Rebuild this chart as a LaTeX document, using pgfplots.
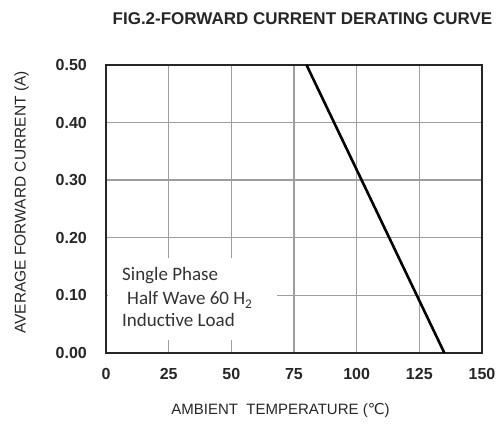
\documentclass[border=0pt]{standalone}
\usepackage{pgfplots}
\pgfplotsset{compat=1.18}
\usepackage{fontspec}
\setmainfont{Liberation Sans}
\newfontfamily\carlito{Carlito}
\newfontfamily\dejavu{DejaVu Sans}
\begin{document}
\begin{tikzpicture}
\begin{axis}[
  name=ax, at={(0,0)}, anchor=south west,
  scale only axis, width=376bp, height=288bp,
  xmin=0, xmax=150, ymin=0, ymax=0.5,
  xtick={0,25,50,75,100,125,150},
  ytick={0,0.1,0.2,0.3,0.4,0.5},
  /pgf/number format/assume math mode=true,
  major tick length=0pt,
  tick label style={font=\fontsize{16bp}{18bp}\selectfont\bfseries, inner sep=0pt, text=black!85},
  yticklabel style={anchor=east, xshift=-19bp, /pgf/number format/fixed, /pgf/number format/fixed zerofill, /pgf/number format/precision=2},
  xticklabel style={anchor=north, yshift=-15bp},
  grid=major,
  major grid style={draw=black!38, line width=1.4bp},
  axis line style={draw=black!85, line width=2bp},
  clip=false,
]
\addplot[black, line width=2.6bp] coordinates {(80,0.5) (135,0)};
\end{axis}
% white background behind the note
\fill[white] ([shift={(2bp,13bp)}]ax.south west) rectangle ([shift={(171bp,95bp)}]ax.south west);
\begin{scope}[every node/.style={inner sep=0pt, anchor=base west, font=\carlito\fontsize{19bp}{22bp}\selectfont, text=black!80}]
\node at ([shift={(16bp,72bp)}]ax.south west) {Single Phase};
\node at ([shift={(21bp,48bp)}]ax.south west) {Half Wave 60 H\textsubscript{2}};
\node at ([shift={(16bp,27bp)}]ax.south west) {Inductive Load};
\end{scope}
\node[font=\fontsize{17bp}{19bp}\selectfont\bfseries, text=black!85, inner sep=0pt] at ([shift={(196.5bp,46.7bp)}]ax.north west) {FIG.2-FORWARD CURRENT DERATING CURVE};
\node[font=\fontsize{15bp}{17bp}\selectfont, text=black!85, inner sep=0pt] at ([shift={(174.5bp,-57bp)}]ax.south west) {AMBIENT\ \ TEMPERATURE ({\dejavu ℃})};
\node[font=\fontsize{15.5bp}{17bp}\selectfont, text=black!85, inner sep=0pt, rotate=90] at ([shift={(-84.5bp,150.5bp)}]ax.south west) {AVERAGE FORWARD CURRENT (A)};
\path[use as bounding box] ([shift={(-106bp,-73bp)}]ax.south west) rectangle ([shift={(21bp,65bp)}]ax.north east);
\end{tikzpicture}
\end{document}
